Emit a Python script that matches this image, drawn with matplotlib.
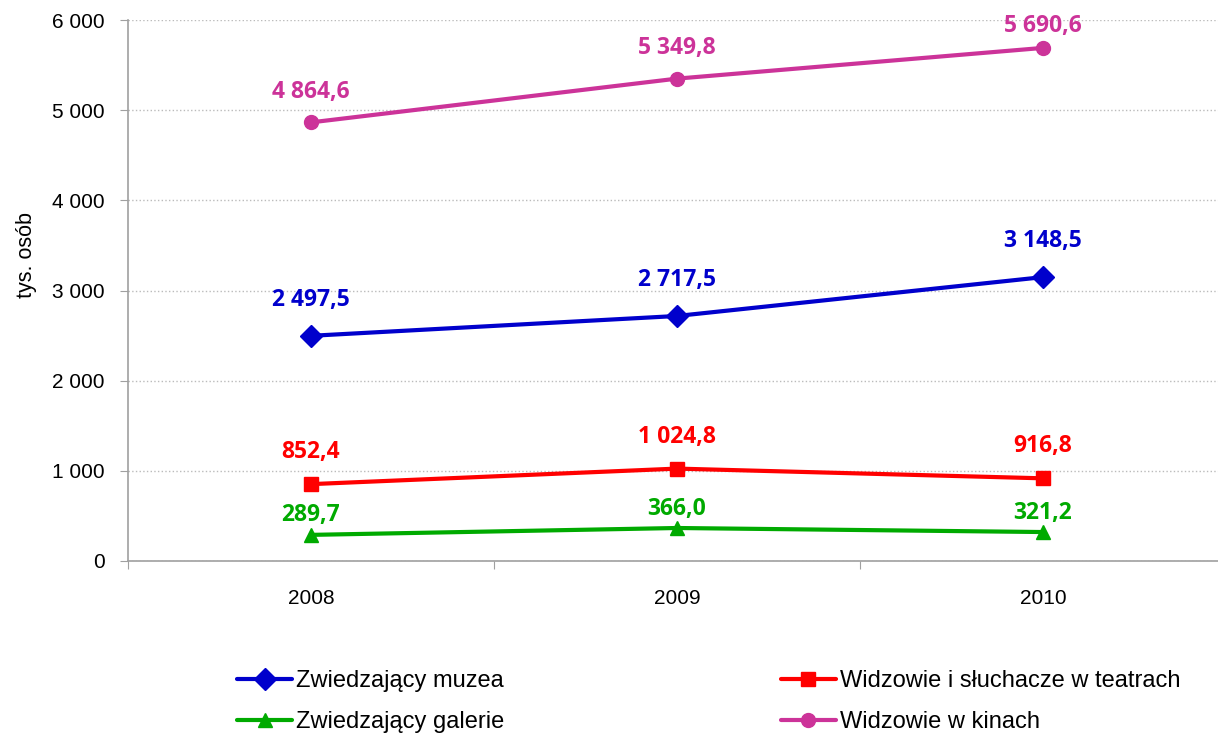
import matplotlib.pyplot as plt
from matplotlib.ticker import FuncFormatter

years = ['2008', '2009', '2010']
muzea = [2497.5, 2717.5, 3148.5]
teatry = [852.4, 1024.8, 916.8]
galerie = [289.7, 366.0, 321.2]
kina = [4864.6, 5349.8, 5690.6]


def pl(v, dec=1):
    s = f'{v:,.{dec}f}'
    return s.replace(',', ' ').replace('.', ',')


fig = plt.figure(figsize=(12.18, 7.38), dpi=100)
ax = fig.add_axes([128 / 1218, 1 - 561 / 738, 1098 / 1218, 541 / 738])

ymax = 6000
pt_per_unit = 541 / ymax * 0.72

x = range(len(years))
series = [
    (muzea, 'Zwiedzający muzea', '#0000CC', 'D', 11, 26),
    (teatry, 'Widzowie i słuchacze w teatrach', '#FF0000', 's', 10, 23),
    (galerie, 'Zwiedzający galerie', '#00AA00', '^', 10, 14),
    (kina, 'Widzowie w kinach', '#CC3399', 'o', 10, 22),
]
handles = {}
for vals, name, col, mk, ms, off in series:
    ln, = ax.plot(x, vals, color=col, lw=3, marker=mk, ms=ms,
                  label=name, solid_capstyle='round', zorder=3)
    handles[name] = ln
    for xi, v in zip(x, vals):
        # keep label inside the plot area, like Excel does
        o = min(off, (ymax - v) * pt_per_unit - 4)
        ax.annotate(pl(v), (xi, v), xytext=(0, o), textcoords='offset points',
                    ha='center', va='center', color=col, fontsize=16.5,
                    fontweight='bold', family='Open Sans', annotation_clip=False)

ax.set_xlim(-0.5, 2.5)
ax.set_ylim(0, ymax)
ax.set_yticks(range(0, ymax + 1, 1000))
ax.yaxis.set_major_formatter(FuncFormatter(lambda v, p: pl(v, 0)))
ax.set_xticks([-0.5, 0.5, 1.5, 2.5])
ax.set_xticklabels([])
ax.set_xticks(list(x), minor=True)
ax.set_xticklabels(years, minor=True)
ax.tick_params(axis='x', which='minor', length=0, pad=20, labelsize=15)
ax.tick_params(axis='x', which='major', length=6, direction='out', color='#A0A0A0')
ax.tick_params(axis='y', length=6, color='#A0A0A0', labelsize=15, pad=11)
for lab in ax.get_xticklabels(minor=True) + ax.get_yticklabels():
    lab.set_family('Liberation Sans')

ax.grid(axis='y', color='#BBBBBB', ls=':', lw=1)
ax.set_axisbelow(True)
for s in ['top', 'right']:
    ax.spines[s].set_visible(False)
for s in ['left', 'bottom']:
    ax.spines[s].set_color('#A0A0A0')
    ax.spines[s].set_linewidth(1.2)

ax.set_ylabel('tys. osób', fontsize=15.5, family='Liberation Sans')
ax.yaxis.set_label_coords(-0.083, 0.566)

order = ['Zwiedzający muzea', 'Zwiedzający galerie',
         'Widzowie i słuchacze w teatrach', 'Widzowie w kinach']
fig.legend([handles[n] for n in order], order, ncol=2, loc='center',
           bbox_to_anchor=(0.582, 0.0495), frameon=False,
           prop={'family': 'Liberation Sans', 'size': 17},
           handlelength=2.33, handletextpad=0.17, columnspacing=11.7,
           labelspacing=0.8)

fig.savefig('out.png', dpi=100)
